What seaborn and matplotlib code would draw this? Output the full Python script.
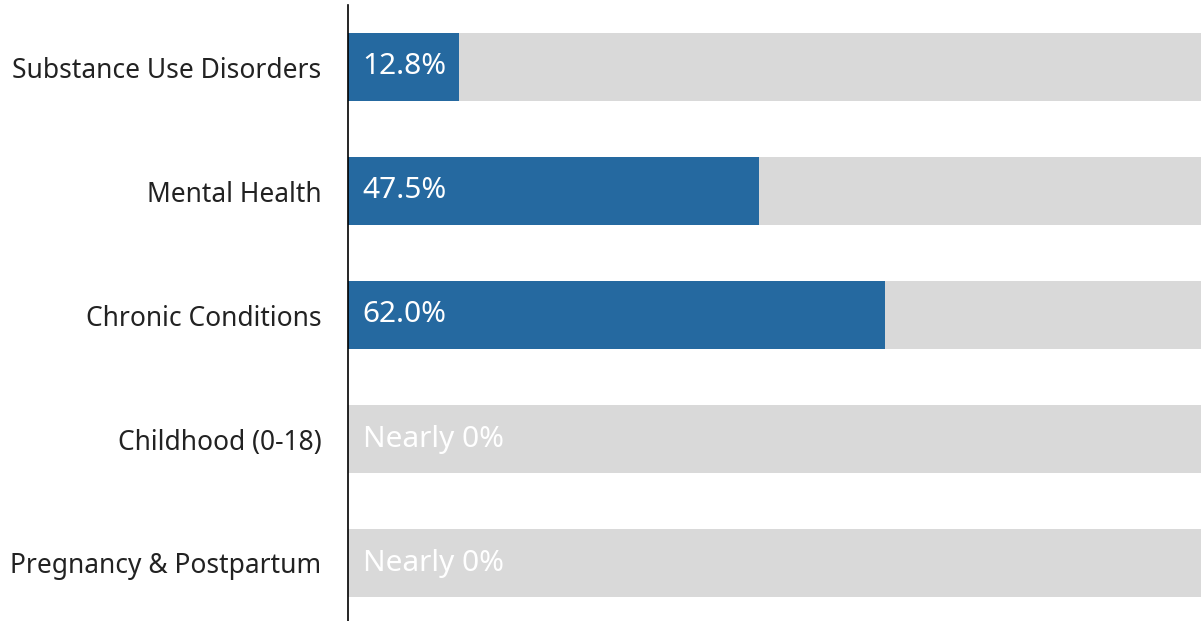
import matplotlib.pyplot as plt
import pandas as pd
import seaborn as sns

categories = ['Substance Use Disorders', 'Mental Health', 'Chronic Conditions',
              'Childhood (0-18)', 'Pregnancy & Postpartum']
values = [12.8, 47.5, 62.0, 0.0, 0.0]
labels = ['12.8%', '47.5%', '62.0%', 'Nearly 0%', 'Nearly 0%']
full = [100, 100, 100, 100, 100]

df = pd.DataFrame({'category': categories, 'value': values, 'full': full, 'label': labels})

sns.set_theme(style='white')
plt.rcParams['font.family'] = ['Noto Sans', 'DejaVu Sans']

fig = plt.figure(figsize=(12.01, 6.21), dpi=100)
ax = fig.add_axes([348 / 1201, -4 / 621, 866 / 1201, 620 / 621])

# grey track behind each bar, then the actual share on top
sns.barplot(data=df, x='full', y='category', color='#d9d9d9', width=0.55,
            saturation=1, linewidth=0, ax=ax)
sns.barplot(data=df, x='value', y='category', color='#2569a0', width=0.55,
            saturation=1, linewidth=0, ax=ax)

for i, lab in enumerate(df['label']):
    ax.text(1.7, i, lab, color='white', fontsize=21.5, fontweight='light',
            va='center', ha='left')

ax.set_xlim(0, 100)
ax.set_ylim(4.5, -0.5)
ax.set_xlabel('')
ax.set_ylabel('')
ax.set_xticks([])
ax.tick_params(axis='y', labelsize=19, pad=19, length=0, colors='#222222')
for t in ax.get_yticklabels():
    t.set_fontweight('light')
for s in ['top', 'right', 'bottom']:
    ax.spines[s].set_visible(False)
ax.spines['left'].set_color('black')
ax.spines['left'].set_linewidth(1.2)

fig.savefig('out.png', dpi=100)
